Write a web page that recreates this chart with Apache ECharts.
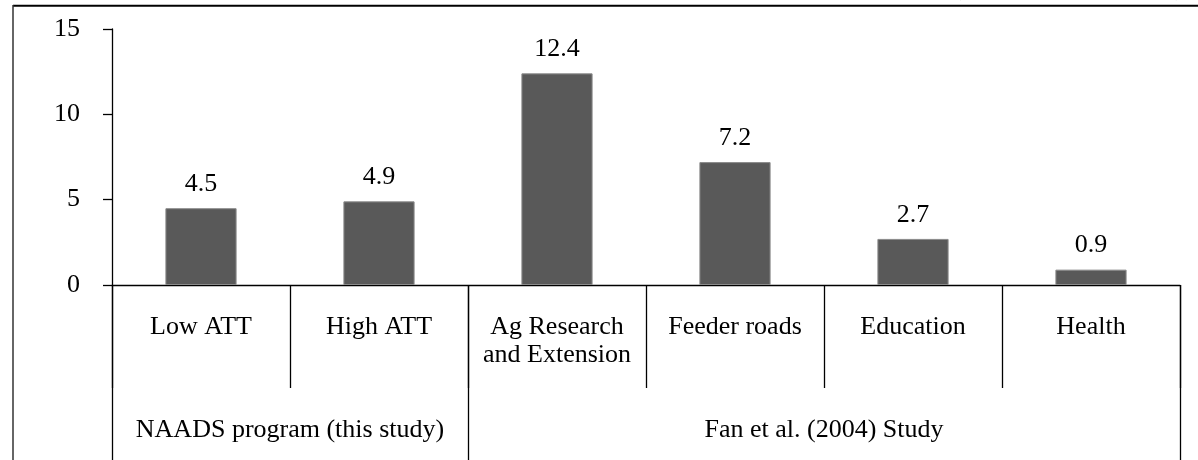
<!DOCTYPE html>
<html>
<head>
<meta charset="utf-8">
<script src="https://cdn.jsdelivr.net/npm/echarts@6/dist/echarts.min.js"></script>
<style>
html,body{margin:0;padding:0;background:#fff;}
#chart{width:1198px;height:460px;}
</style>
</head>
<body>
<div id="chart"></div>
<script>
const titleText = 'Figure 4. Comparative analysis of returns to public investments in Uganda (benefit-cost ratio)';
const categories = ['Low ATT', 'High ATT', 'Ag Research\nand Extension', 'Feeder roads', 'Education', 'Health'];
const values = [4.5, 4.9, 12.4, 7.2, 2.7, 0.9];
const groupNames = ['NAADS program (this study)', 'Fan et al. (2004) Study'];
const groupSpans = [2, 4];
const yTicks = [0, 5, 10, 15];

const FONT = '"Liberation Serif", "Times New Roman", serif';

// group boundaries and centers (in category units)
const groupBounds = [0];
groupSpans.forEach(s => groupBounds.push(groupBounds[groupBounds.length - 1] + s));
const groupCenters = groupSpans.map((s, i) => groupBounds[i] + s / 2);

const chart = echarts.init(document.getElementById('chart'), null, {renderer: 'canvas'});
chart.setOption({
  animation: false,
  backgroundColor: '#ffffff',
  grid: {left: 112, right: 18, top: 29, bottom: 175, containLabel: false},
  xAxis: [
    {
      type: 'category',
      data: categories,
      boundaryGap: true,
      axisLine: {show: true, lineStyle: {color: '#000', width: 1.3}},
      axisTick: {show: true, interval: 0, alignWithLabel: false, length: 103, lineStyle: {color: '#000', width: 1.3}},
      axisLabel: {
        interval: 0, margin: 28, color: '#000',
        fontFamily: FONT, fontSize: 26, lineHeight: 28, align: 'center', verticalAlign: 'top'
      },
      splitLine: {show: false}
    },
    {
      type: 'value',
      min: 0,
      max: categories.length,
      position: 'bottom',
      axisLine: {show: false},
      axisTick: {show: true, customValues: groupBounds, length: 175, lineStyle: {color: '#000', width: 1.3}},
      axisLabel: {
        show: true, customValues: groupCenters, margin: 131, color: '#000',
        fontFamily: FONT, fontSize: 26, lineHeight: 28, verticalAlign: 'top',
        formatter: function (v) {
          const i = groupCenters.indexOf(v);
          return i >= 0 ? groupNames[i] : '';
        }
      },
      splitLine: {show: false}
    }
  ],
  yAxis: {
    type: 'value',
    min: yTicks[0],
    max: yTicks[yTicks.length - 1],
    interval: yTicks[1] - yTicks[0],
    axisLine: {show: true, lineStyle: {color: '#000', width: 1.3}},
    axisTick: {show: true, inside: false, length: 9, lineStyle: {color: '#000', width: 1.3}},
    axisLabel: {margin: 32, color: '#000', fontFamily: FONT, fontSize: 26},
    splitLine: {show: false}
  },
  series: [{
    type: 'bar',
    xAxisIndex: 0,
    data: values,
    barWidth: '40%',
    itemStyle: {color: '#595959', borderColor: '#8a8a8a', borderWidth: 1},
    label: {
      show: true, position: 'top', distance: 11, color: '#000',
      fontFamily: FONT, fontSize: 26,
      formatter: p => p.value.toFixed(1)
    }
  }],
  graphic: [
    {
      type: 'text', x: 11, y: 3, silent: true,
      style: {text: titleText, fill: '#000', font: 'bold 29.4px ' + FONT, lineHeight: 33, align: 'left', verticalAlign: 'bottom'}
    },
    {
      type: 'line', silent: true,
      shape: {x1: 13, y1: 5.7, x2: 1198, y2: 5.7},
      style: {stroke: '#000', lineWidth: 2}
    },
    {
      type: 'line', silent: true,
      shape: {x1: 13, y1: 5, x2: 13, y2: 460},
      style: {stroke: '#333', lineWidth: 1.5}
    }
  ]
});
</script>
</body>
</html>
